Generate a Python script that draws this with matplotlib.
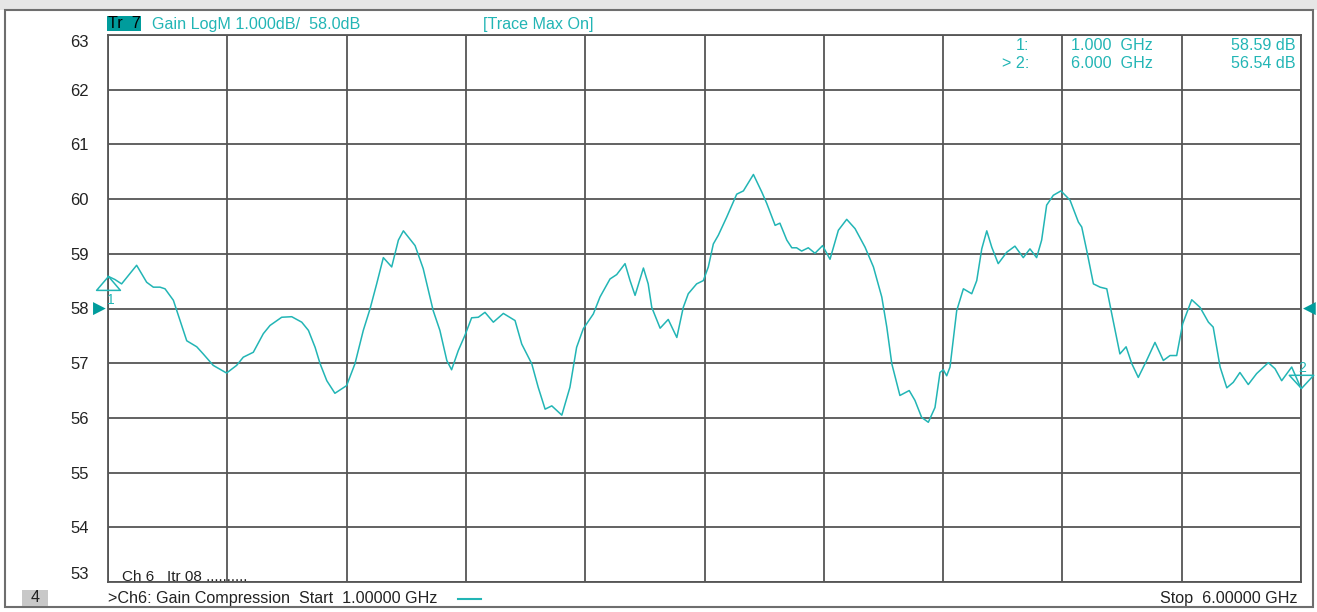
"""Gain compression trace, 1-6 GHz, analyzer-style screen."""

import matplotlib

matplotlib.use("Agg")
import matplotlib.pyplot as plt
from matplotlib.markers import MarkerStyle
from matplotlib.path import Path
from matplotlib.patches import Rectangle

plt.rcParams["font.family"] = ["Liberation Sans", "DejaVu Sans"]

# Trace 7: gain (dB) vs frequency (GHz)
freq_ghz = [
    1.000, 1.029, 1.057, 1.120, 1.162, 1.190, 1.218, 1.239, 1.274, 1.302,
    1.330, 1.372, 1.399, 1.441, 1.497, 1.539, 1.567, 1.609, 1.651, 1.679,
    1.728, 1.770, 1.812, 1.840, 1.868, 1.889, 1.917, 1.951, 2.000, 2.035,
    2.070, 2.098, 2.126, 2.154, 2.189, 2.217, 2.238, 2.287, 2.321, 2.363,
    2.391, 2.420, 2.440, 2.468, 2.496, 2.524, 2.552, 2.580, 2.615, 2.657,
    2.706, 2.734, 2.776, 2.803, 2.832, 2.860, 2.902, 2.936, 2.964, 2.992,
    3.034, 3.062, 3.104, 3.132, 3.167, 3.188, 3.209, 3.244, 3.264, 3.279,
    3.314, 3.348, 3.384, 3.411, 3.432, 3.467, 3.495, 3.516, 3.537, 3.558,
    3.593, 3.635, 3.663, 3.705, 3.740, 3.761, 3.796, 3.816, 3.845, 3.866,
    3.886, 3.907, 3.935, 3.963, 3.995, 4.026, 4.061, 4.096, 4.131, 4.173,
    4.208, 4.243, 4.264, 4.285, 4.319, 4.358, 4.382, 4.410, 4.438, 4.466,
    4.487, 4.501, 4.515, 4.529, 4.557, 4.585, 4.620, 4.641, 4.662, 4.683,
    4.704, 4.731, 4.767, 4.801, 4.836, 4.864, 4.892, 4.913, 4.934, 4.962,
    4.994, 5.032, 5.067, 5.081, 5.102, 5.130, 5.158, 5.186, 5.207, 5.241,
    5.267, 5.291, 5.318, 5.353, 5.388, 5.423, 5.451, 5.479, 5.504, 5.542,
    5.577, 5.612, 5.632, 5.661, 5.689, 5.716, 5.744, 5.779, 5.814, 5.863,
    5.891, 5.919, 5.961, 6.000,
]
gain_db = [
    58.59, 58.53, 58.45, 58.79, 58.48, 58.39, 58.39, 58.36, 58.15, 57.78,
    57.41, 57.30, 57.17, 56.96, 56.82, 56.96, 57.11, 57.20, 57.54, 57.69,
    57.84, 57.85, 57.75, 57.60, 57.29, 56.99, 56.68, 56.45, 56.59, 56.99,
    57.60, 57.99, 58.45, 58.93, 58.76, 59.25, 59.42, 59.15, 58.73, 57.96,
    57.60, 57.05, 56.88, 57.23, 57.51, 57.83, 57.84, 57.93, 57.75, 57.91,
    57.78, 57.35, 56.99, 56.56, 56.16, 56.22, 56.05, 56.56, 57.29, 57.63,
    57.90, 58.21, 58.54, 58.62, 58.82, 58.51, 58.24, 58.74, 58.45, 58.02,
    57.64, 57.80, 57.47, 58.02, 58.27, 58.45, 58.51, 58.76, 59.18, 59.34,
    59.67, 60.09, 60.15, 60.45, 60.13, 59.92, 59.52, 59.56, 59.25, 59.11,
    59.11, 59.05, 59.11, 59.01, 59.15, 58.90, 59.43, 59.63, 59.46, 59.12,
    58.76, 58.21, 57.66, 56.99, 56.41, 56.50, 56.32, 56.01, 55.92, 56.19,
    56.83, 56.88, 56.77, 56.93, 57.96, 58.36, 58.27, 58.51, 59.09, 59.42,
    59.12, 58.82, 59.03, 59.14, 58.93, 59.09, 58.93, 59.25, 59.89, 60.07,
    60.15, 59.98, 59.58, 59.49, 59.06, 58.45, 58.39, 58.36, 57.90, 57.17,
    57.30, 56.99, 56.74, 57.05, 57.38, 57.05, 57.14, 57.14, 57.72, 58.16,
    58.02, 57.75, 57.66, 56.93, 56.55, 56.65, 56.83, 56.61, 56.81, 57.01,
    56.90, 56.68, 56.93, 56.54,
]

marker_freq = [1.000, 6.000]
marker_gain = [58.59, 56.54]
ref_level = 58.0
y_ticks = list(range(53, 64))

TEAL = "#22b5b5"
TEAL_DARK = "#009c9c"
GRID = "#555555"
FS = 11.6

W, H = 1317, 612
fig = plt.figure(figsize=(W / 100, H / 100), dpi=100)


def fx(px):
    return px / W


def fy(py):
    return 1 - py / H


# screen frame, kept behind the axes
fig.patches.append(Rectangle((0, fy(10)), 1, 1 - fy(10), transform=fig.transFigure,
                             facecolor="#e6e6e6", edgecolor="none", zorder=-3))
fig.patches.append(Rectangle((fx(5), fy(607)), fx(1313) - fx(5), fy(10) - fy(607),
                             transform=fig.transFigure, facecolor="white",
                             edgecolor="#6e6e6e", linewidth=1.5, zorder=-2))

ax = fig.add_axes([fx(108), fy(582), fx(1301) - fx(108), fy(35) - fy(582)])
ax.set_zorder(1)
ax.set_xlim(1.0, 6.0)
ax.set_ylim(53, 63)
ax.set_xticks([1.0 + 0.5 * i for i in range(11)])
ax.set_xticklabels([])
ax.set_yticks(y_ticks)
ax.set_yticklabels([str(v) for v in y_ticks], fontsize=12, color="#222222")
ax.tick_params(axis="both", length=0, pad=14)
for lab in ax.get_yticklabels():
    if lab.get_text() == "63":
        lab.set_va("top")
    elif lab.get_text() == "53":
        lab.set_va("bottom")
ax.grid(True, color=GRID, linewidth=1.3)
for side in ax.spines.values():
    side.set_color(GRID)
    side.set_linewidth(1.3)

ax.plot(freq_ghz, gain_db, color=TEAL, linewidth=1.1, zorder=3, clip_on=False)

# marker symbols: tip sits on the trace point, base bar a little wider
tri_up = MarkerStyle(Path([(0, 0), (-12, -14), (12, -14), (0, 0)]))
tri_down = MarkerStyle(Path([(0, 0), (-12, 13), (12, 13), (0, 0)]))
ax.plot(marker_freq[0], marker_gain[0], marker=tri_up, markersize=20, markerfacecolor="none",
        markeredgecolor=TEAL, markeredgewidth=1.1, clip_on=False, zorder=4)
ax.plot(marker_freq[1], marker_gain[1], marker=tri_down, markersize=19, markerfacecolor="none",
        markeredgecolor=TEAL, markeredgewidth=1.1, clip_on=False, zorder=4)
ax.annotate("1", (marker_freq[0], marker_gain[0]), xytext=(2, -17), textcoords="offset points",
            color=TEAL, fontsize=10, ha="center", va="center", annotation_clip=False)
ax.annotate("2", (marker_freq[1], marker_gain[1]), xytext=(1, 15), textcoords="offset points",
            color=TEAL, fontsize=10, ha="center", va="center", annotation_clip=False)

# reference level arrows at both edges of the grid
ax.annotate("\u25B6", (1.0, ref_level), xytext=(-6, 0), textcoords="offset points",
            color=TEAL_DARK, fontsize=12, ha="center", va="center", annotation_clip=False,
            family="DejaVu Sans")
ax.annotate("\u25C0", (6.0, ref_level), xytext=(6, 0), textcoords="offset points",
            color=TEAL_DARK, fontsize=12, ha="center", va="center", annotation_clip=False,
            family="DejaVu Sans")

# header line
fig.patches.append(Rectangle((fx(107), fy(31)), fx(141) - fx(107), fy(16) - fy(31),
                             transform=fig.transFigure, facecolor=TEAL_DARK, edgecolor="none"))
fig.text(fx(108), fy(24), "Tr  7", fontsize=FS, color="black", va="center")
fig.text(fx(152), fy(24), "Gain LogM 1.000dB/  58.0dB", fontsize=FS, color=TEAL, va="center")
fig.text(fx(483), fy(24), "[Trace Max On]", fontsize=FS, color=TEAL, va="center")

# marker readout
rows = [("1:", "1.000  GHz", "58.59 dB"), ("> 2:", "6.000  GHz", "56.54 dB")]
for i, (name, f_txt, v_txt) in enumerate(rows):
    yy = fy(45 + 18 * i)
    fig.text(fx(1029), yy, name, fontsize=FS, color=TEAL, ha="right", va="center")
    fig.text(fx(1071), yy, f_txt, fontsize=FS, color=TEAL, ha="left", va="center")
    fig.text(fx(1296), yy, v_txt, fontsize=FS, color=TEAL, ha="right", va="center")

# footer
fig.text(fx(122), fy(577), "Ch 6   Itr 08 ..........", fontsize=11, color="#222222",
         va="center", zorder=3)
fig.patches.append(Rectangle((fx(22), fy(606)), fx(48) - fx(22), fy(590) - fy(606),
                             transform=fig.transFigure, facecolor="#c8c8c8", edgecolor="none"))
fig.text(fx(35), fy(598), "4", fontsize=FS, color="#222222", ha="center", va="center")
fig.text(fx(108), fy(599), ">Ch6: Gain Compression  Start  1.00000 GHz", fontsize=FS,
         color="#222222", va="center")
fig.lines.append(plt.Line2D([fx(458), fx(481)], [fy(599), fy(599)], color=TEAL, linewidth=1.5,
                            transform=fig.transFigure))
fig.text(fx(1297), fy(599), "Stop  6.00000 GHz", fontsize=FS, color="#222222", ha="right",
         va="center")

fig.savefig("out.png", dpi=100)
